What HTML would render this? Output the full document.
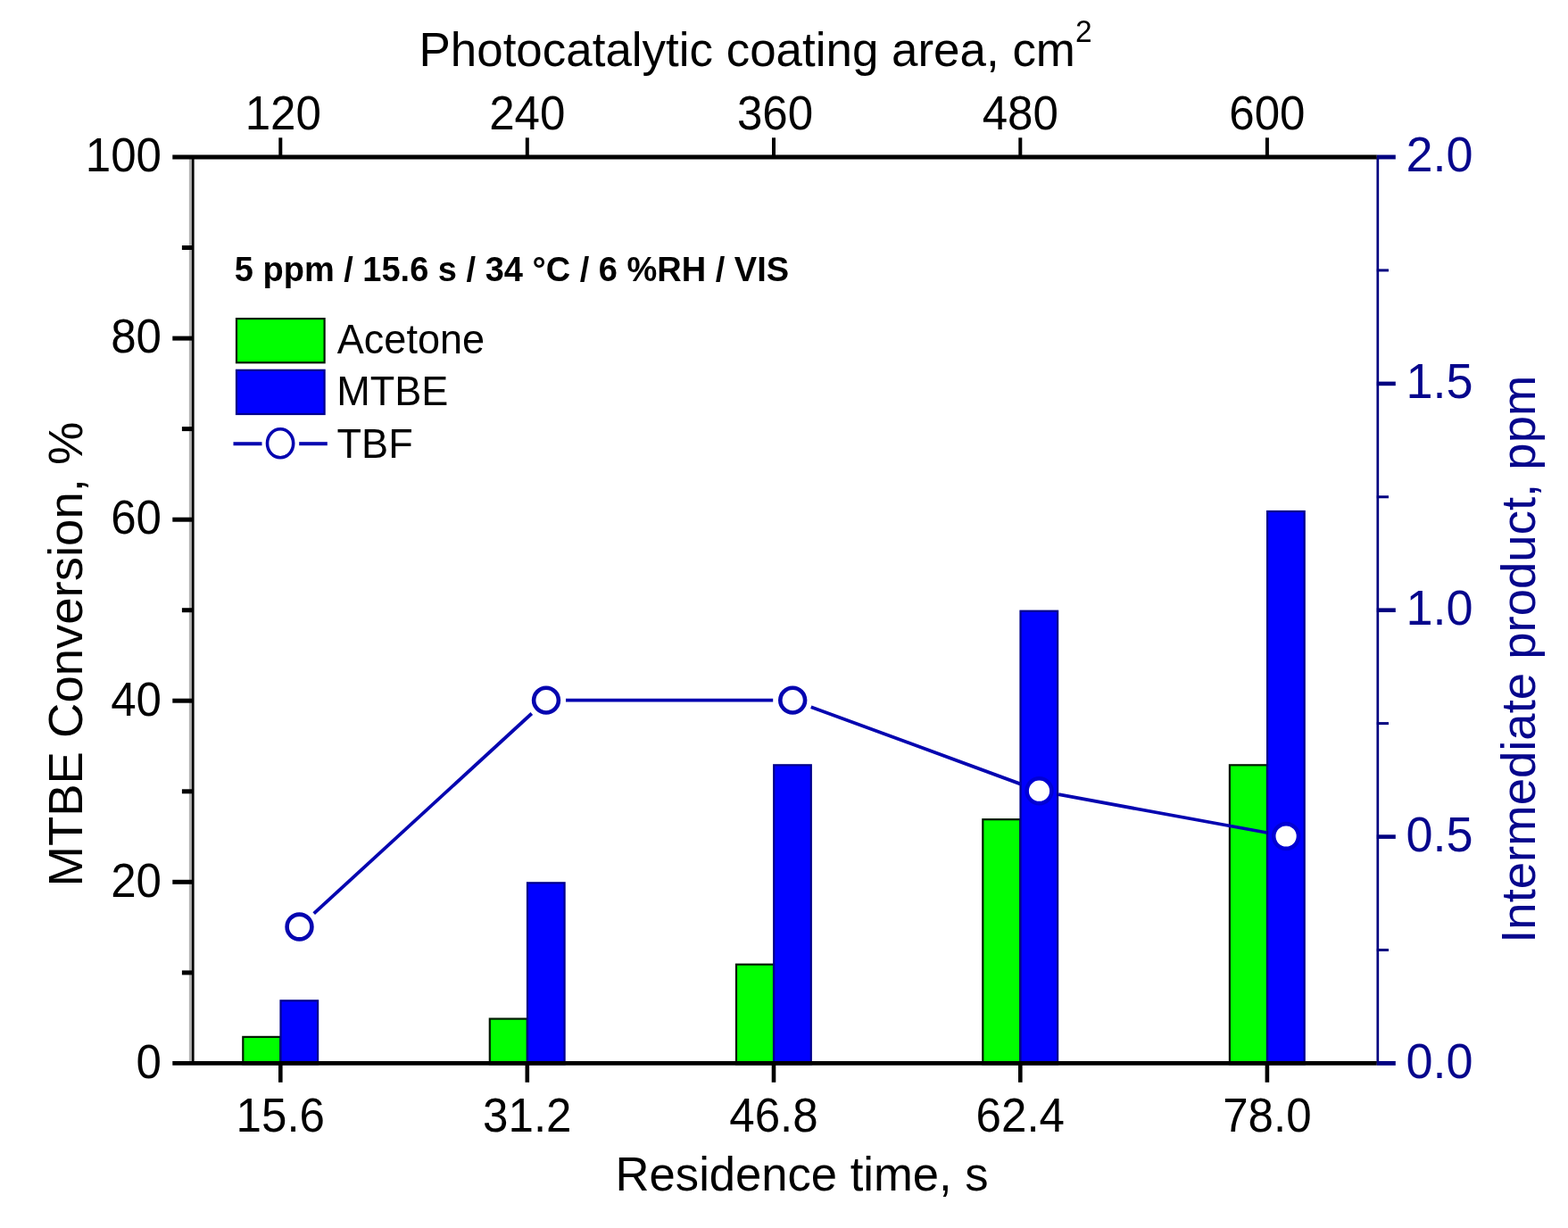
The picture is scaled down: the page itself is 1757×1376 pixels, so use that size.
<!DOCTYPE html>
<html><head><meta charset="utf-8"><title>MTBE conversion chart</title>
<style>html,body{margin:0;padding:0;background:#fff;overflow:hidden;}svg{display:block;}</style>
</head><body>
<svg width="1757" height="1376" viewBox="0 0 1757 1376" font-family="'Liberation Sans', Arial, Helvetica, sans-serif">
<rect width="1757" height="1376" fill="#fff"/>
<rect x="272.3" y="1161.9" width="42.0" height="30.5" fill="#00ff00" stroke="#001a00" stroke-width="2.2"/>
<rect x="314.5" y="1121.3" width="41.6" height="71.1" fill="#0000ff" stroke="#00008c" stroke-width="2.2"/>
<rect x="548.8" y="1141.6" width="42.0" height="50.8" fill="#00ff00" stroke="#001a00" stroke-width="2.2"/>
<rect x="591.0" y="989.3" width="41.6" height="203.1" fill="#0000ff" stroke="#00008c" stroke-width="2.2"/>
<rect x="825.0" y="1080.7" width="42.0" height="111.7" fill="#00ff00" stroke="#001a00" stroke-width="2.2"/>
<rect x="867.2" y="857.3" width="41.6" height="335.1" fill="#0000ff" stroke="#00008c" stroke-width="2.2"/>
<rect x="1101.3" y="918.2" width="42.0" height="274.2" fill="#00ff00" stroke="#001a00" stroke-width="2.2"/>
<rect x="1143.5" y="684.7" width="41.6" height="507.7" fill="#0000ff" stroke="#00008c" stroke-width="2.2"/>
<rect x="1377.9" y="857.3" width="42.0" height="335.1" fill="#00ff00" stroke="#001a00" stroke-width="2.2"/>
<rect x="1420.1" y="573.0" width="41.6" height="619.4" fill="#0000ff" stroke="#00008c" stroke-width="2.2"/>
<line x1="351.7" y1="1023.6" x2="595.8" y2="799.5" stroke="#0505b0" stroke-width="3.8"/>
<line x1="634.0" y1="784.6" x2="866.2" y2="784.6" stroke="#0505b0" stroke-width="3.8"/>
<line x1="908.8" y1="792.2" x2="1143.9" y2="878.6" stroke="#0505b0" stroke-width="3.8"/>
<line x1="1186.1" y1="890.2" x2="1419.5" y2="933.0" stroke="#0505b0" stroke-width="3.8"/>
<circle cx="335.5" cy="1038.5" r="13.9" fill="#fff" stroke="#0505b0" stroke-width="4.6"/>
<circle cx="612.0" cy="784.6" r="13.9" fill="#fff" stroke="#0505b0" stroke-width="4.6"/>
<circle cx="888.2" cy="784.6" r="13.9" fill="#fff" stroke="#0505b0" stroke-width="4.6"/>
<circle cx="1164.5" cy="886.2" r="13.9" fill="#fff" stroke="#0000d4" stroke-width="4.6"/>
<circle cx="1441.1" cy="937.0" r="13.9" fill="#fff" stroke="#0000d4" stroke-width="4.6"/>
<line x1="213.3" y1="176.0" x2="213.3" y2="1191.4" stroke="#b4b4b4" stroke-width="2.9"/>
<line x1="216.2" y1="176.0" x2="216.2" y2="1191.4" stroke="#000" stroke-width="2.8"/>
<line x1="1543.8" y1="176.0" x2="1543.8" y2="1191.4" stroke="#000080" stroke-width="2.7"/>
<line x1="193.3" y1="176.0" x2="1542.8" y2="176.0" stroke="#000" stroke-width="5"/>
<line x1="193.3" y1="1191.4" x2="1542.8" y2="1191.4" stroke="#000" stroke-width="4.9"/>
<line x1="203.9" y1="1089.9" x2="216.2" y2="1089.9" stroke="#000" stroke-width="5"/>
<line x1="193.3" y1="988.3" x2="216.2" y2="988.3" stroke="#000" stroke-width="5"/>
<line x1="203.9" y1="886.8" x2="216.2" y2="886.8" stroke="#000" stroke-width="5"/>
<line x1="193.3" y1="785.2" x2="216.2" y2="785.2" stroke="#000" stroke-width="5"/>
<line x1="203.9" y1="683.7" x2="216.2" y2="683.7" stroke="#000" stroke-width="5"/>
<line x1="193.3" y1="582.2" x2="216.2" y2="582.2" stroke="#000" stroke-width="5"/>
<line x1="203.9" y1="480.6" x2="216.2" y2="480.6" stroke="#000" stroke-width="5"/>
<line x1="193.3" y1="379.1" x2="216.2" y2="379.1" stroke="#000" stroke-width="5"/>
<line x1="203.9" y1="277.5" x2="216.2" y2="277.5" stroke="#000" stroke-width="5"/>
<line x1="1542.8" y1="1191.4" x2="1563.8" y2="1191.4" stroke="#000080" stroke-width="4.9"/>
<line x1="1542.8" y1="1064.5" x2="1556" y2="1064.5" stroke="#000080" stroke-width="3"/>
<line x1="1542.8" y1="937.6" x2="1563.8" y2="937.6" stroke="#000080" stroke-width="4.6"/>
<line x1="1542.8" y1="810.6" x2="1556" y2="810.6" stroke="#000080" stroke-width="3"/>
<line x1="1542.8" y1="683.7" x2="1563.8" y2="683.7" stroke="#000080" stroke-width="4.6"/>
<line x1="1542.8" y1="556.8" x2="1556" y2="556.8" stroke="#000080" stroke-width="3"/>
<line x1="1542.8" y1="429.9" x2="1563.8" y2="429.9" stroke="#000080" stroke-width="4.6"/>
<line x1="1542.8" y1="302.9" x2="1556" y2="302.9" stroke="#000080" stroke-width="3"/>
<line x1="1542.8" y1="176.0" x2="1563.8" y2="176.0" stroke="#000080" stroke-width="4.9"/>
<line x1="314.3" y1="1191.4" x2="314.3" y2="1212.8" stroke="#000" stroke-width="4.6"/>
<line x1="590.8" y1="1191.4" x2="590.8" y2="1212.8" stroke="#000" stroke-width="4.6"/>
<line x1="867.0" y1="1191.4" x2="867.0" y2="1212.8" stroke="#000" stroke-width="4.6"/>
<line x1="1143.3" y1="1191.4" x2="1143.3" y2="1212.8" stroke="#000" stroke-width="4.6"/>
<line x1="1419.9" y1="1191.4" x2="1419.9" y2="1212.8" stroke="#000" stroke-width="4.6"/>
<line x1="314.3" y1="176.0" x2="314.3" y2="154.3" stroke="#000" stroke-width="4"/>
<line x1="590.8" y1="176.0" x2="590.8" y2="154.3" stroke="#000" stroke-width="4"/>
<line x1="867.0" y1="176.0" x2="867.0" y2="154.3" stroke="#000" stroke-width="4"/>
<line x1="1143.3" y1="176.0" x2="1143.3" y2="154.3" stroke="#000" stroke-width="4"/>
<line x1="1419.9" y1="176.0" x2="1419.9" y2="154.3" stroke="#000" stroke-width="4"/>
<text transform="translate(181.00,1207.70) scale(0.9550,1)" font-size="53.5" text-anchor="end" fill="#000">0</text>
<text transform="translate(181.00,1004.62) scale(0.9550,1)" font-size="53.5" text-anchor="end" fill="#000">20</text>
<text transform="translate(181.00,801.54) scale(0.9550,1)" font-size="53.5" text-anchor="end" fill="#000">40</text>
<text transform="translate(181.00,598.46) scale(0.9550,1)" font-size="53.5" text-anchor="end" fill="#000">60</text>
<text transform="translate(181.00,395.38) scale(0.9550,1)" font-size="53.5" text-anchor="end" fill="#000">80</text>
<text transform="translate(181.00,192.30) scale(0.9550,1)" font-size="53.5" text-anchor="end" fill="#000">100</text>
<text transform="translate(1575.50,1207.60) scale(0.9650,1)" font-size="56.0" text-anchor="start" fill="#06068c">0.0</text>
<text transform="translate(1575.50,953.75) scale(0.9650,1)" font-size="56.0" text-anchor="start" fill="#06068c">0.5</text>
<text transform="translate(1575.50,699.90) scale(0.9650,1)" font-size="56.0" text-anchor="start" fill="#06068c">1.0</text>
<text transform="translate(1575.50,446.05) scale(0.9650,1)" font-size="56.0" text-anchor="start" fill="#06068c">1.5</text>
<text transform="translate(1575.50,192.20) scale(0.9650,1)" font-size="56.0" text-anchor="start" fill="#06068c">2.0</text>
<text transform="translate(314.30,1268.00) scale(0.9550,1)" font-size="53.5" text-anchor="middle" fill="#000">15.6</text>
<text transform="translate(590.80,1268.00) scale(0.9550,1)" font-size="53.5" text-anchor="middle" fill="#000">31.2</text>
<text transform="translate(867.00,1268.00) scale(0.9550,1)" font-size="53.5" text-anchor="middle" fill="#000">46.8</text>
<text transform="translate(1143.30,1268.00) scale(0.9550,1)" font-size="53.5" text-anchor="middle" fill="#000">62.4</text>
<text transform="translate(1419.90,1268.00) scale(0.9550,1)" font-size="53.5" text-anchor="middle" fill="#000">78.0</text>
<text transform="translate(317.30,145.40) scale(0.9550,1)" font-size="53.5" text-anchor="middle" fill="#000">120</text>
<text transform="translate(590.80,145.40) scale(0.9550,1)" font-size="53.5" text-anchor="middle" fill="#000">240</text>
<text transform="translate(868.50,145.40) scale(0.9550,1)" font-size="53.5" text-anchor="middle" fill="#000">360</text>
<text transform="translate(1143.30,145.40) scale(0.9550,1)" font-size="53.5" text-anchor="middle" fill="#000">480</text>
<text transform="translate(1419.90,145.40) scale(0.9550,1)" font-size="53.5" text-anchor="middle" fill="#000">600</text>
<text transform="translate(469.47,74.0) scale(0.9712,1)" font-size="54.5" fill="#000">Photocatalytic coating area, cm<tspan font-size="34.5" dy="-26.8">2</tspan></text>
<text transform="translate(689.59,1333.80) scale(0.9655,1)" font-size="54.5" text-anchor="start" fill="#000">Residence time, s</text>
<text transform="translate(92.00,993.46) rotate(-90)" font-size="54.5" text-anchor="start" fill="#000">MTBE Conversion, %</text>
<text transform="translate(1719.60,1056.81) rotate(-90)" font-size="54.5" text-anchor="start" fill="#06068c">Intermediate product, ppm</text>
<text transform="translate(262.76,315.00)" font-size="38" text-anchor="start" fill="#000" font-weight="bold">5 ppm / 15.6 s / 34 °C / 6 %RH / VIS</text>
<rect x="265" y="357.1" width="98.6" height="49.2" fill="#00ff00" stroke="#001a00" stroke-width="2.2"/>
<rect x="265" y="414.8" width="98.6" height="49.2" fill="#0000ff" stroke="#00008c" stroke-width="2.2"/>
<text transform="translate(377.80,396.20) scale(0.9900,1)" font-size="45.5" text-anchor="start" fill="#000">Acetone</text>
<text transform="translate(377.30,454.30) scale(0.9900,1)" font-size="45.5" text-anchor="start" fill="#000">MTBE</text>
<text transform="translate(377.60,513.00) scale(0.9900,1)" font-size="45.5" text-anchor="start" fill="#000">TBF</text>
<line x1="261.5" y1="497.2" x2="293.5" y2="497.2" stroke="#0505b0" stroke-width="4"/>
<line x1="335.2" y1="497.2" x2="366.8" y2="497.2" stroke="#0505b0" stroke-width="4"/>
<ellipse cx="314.1" cy="496.8" rx="14.6" ry="16" fill="#fff" stroke="#0505b0" stroke-width="3.6"/>
</svg>
</body></html>
